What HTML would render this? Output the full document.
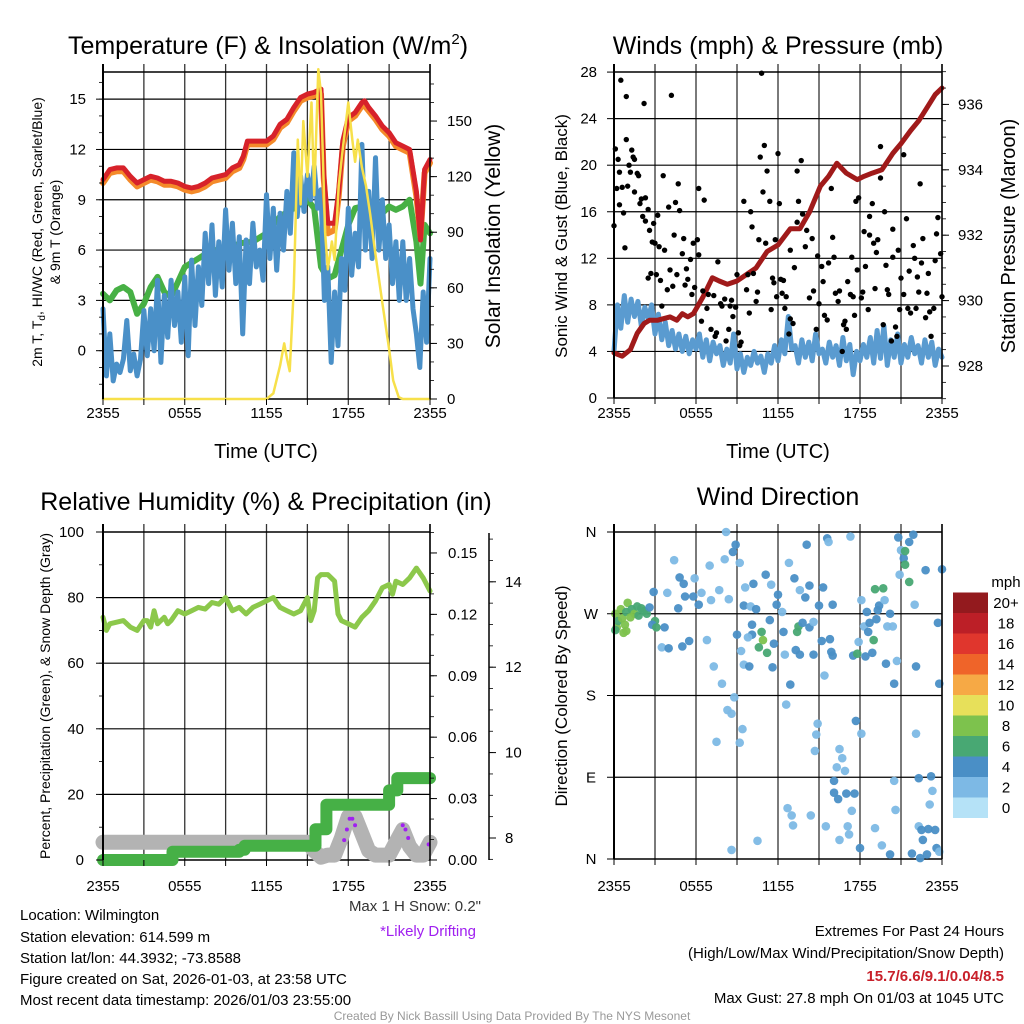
<!DOCTYPE html>
<html><head><meta charset="utf-8"><style>
html,body{margin:0;padding:0;background:#fff;}
svg{display:block;font-family:"Liberation Sans",Arial,sans-serif;}
</style></head><body>
<svg id="c" width="1024" height="1024" viewBox="0 0 1024 1024">
<g id="grid"></g>
<g id="marks"></g>
<g id="axes"></g>
<g id="texts" font-size="15" fill="#000">
<text x="268" y="54" font-size="25" text-anchor="middle">Temperature (F) &amp; Insolation (W/m<tspan font-size="15" dy="-10">2</tspan><tspan dy="10">)</tspan></text>
<text x="778" y="54" font-size="25" text-anchor="middle">Winds (mph) &amp; Pressure (mb)</text>
<text x="266" y="510" font-size="25" text-anchor="middle">Relative Humidity (%) &amp; Precipitation (in)</text>
<text x="778" y="505" font-size="25" text-anchor="middle">Wind Direction</text>
<text x="266" y="458" font-size="20" text-anchor="middle">Time (UTC)</text>
<text x="778" y="458" font-size="20" text-anchor="middle">Time (UTC)</text>
<text transform="translate(42,232) rotate(-90)" font-size="14" text-anchor="middle">2m T, T<tspan font-size="10" dy="3">d</tspan><tspan dy="-3">, HI/WC (Red, Green, Scarlet/Blue)</tspan></text>
<text transform="translate(60,232) rotate(-90)" font-size="14" text-anchor="middle">&amp; 9m T (Orange)</text>
<text transform="translate(500,236) rotate(-90)" font-size="21" text-anchor="middle">Solar Insolation (Yellow)</text>
<text transform="translate(567,236) rotate(-90)" font-size="17" text-anchor="middle">Sonic Wind &amp; Gust (Blue, Black)</text>
<text transform="translate(1015,236) rotate(-90)" font-size="20" text-anchor="middle">Station Pressure (Maroon)</text>
<text transform="translate(50,696) rotate(-90)" font-size="14" text-anchor="middle">Percent, Precipitation (Green), &amp; Snow Depth (Gray)</text>
<text transform="translate(567,696) rotate(-90)" font-size="17" text-anchor="middle">Direction (Colored By Speed)</text>
<text x="1006" y="587" font-size="15" text-anchor="middle">mph</text>
<text x="481" y="911" text-anchor="end" fill="#333">Max 1 H Snow: 0.2"</text>
<text x="428" y="936" text-anchor="middle" fill="#a020f0">*Likely Drifting</text>
<text x="20" y="920">Location: Wilmington</text>
<text x="20" y="942">Station elevation: 614.599 m</text>
<text x="20" y="963">Station lat/lon: 44.3932; -73.8588</text>
<text x="20" y="984">Figure created on Sat, 2026-01-03, at 23:58 UTC</text>
<text x="20" y="1005">Most recent data timestamp: 2026/01/03 23:55:00</text>
<text x="1004" y="936" text-anchor="end">Extremes For Past 24 Hours</text>
<text x="1004" y="958" text-anchor="end">(High/Low/Max Wind/Precipitation/Snow Depth)</text>
<text x="1004" y="981" text-anchor="end" fill="#c8202a" font-weight="bold">15.7/6.6/9.1/0.04/8.5</text>
<text x="1004" y="1003" text-anchor="end">Max Gust: 27.8 mph On 01/03 at 1045 UTC</text>
<text x="512" y="1020" font-size="12" text-anchor="middle" fill="#999">Created By Nick Bassill Using Data Provided By The NYS Mesonet</text>
</g>
</svg>
<script>
const xTickLabels=["2355","0555","1155","1755","2355"];
const tempTicks=[0,3,6,9,12,15];
const insTicks=[0,30,60,90,120,150];
const windTicks=[0,4,8,12,16,20,24,28];
const presTicks=[928,930,932,934,936];
const rhTicks=[0,20,40,60,80,100];
const precipTicks=[0.00,0.03,0.06,0.09,0.12,0.15];
const snowTicks=[8,10,12,14];
const dirTicks=["N","E","S","W","N"];
const speedBins=["0","2","4","6","8","10","12","14","16","18","20+"];
const speedColors=["#b5e2f7","#7db9e5","#4a8fc6","#48a873","#7dc24d","#e7e05a","#f6a945","#ef6429","#e0362d","#bc1f27","#931a1e"];

const redH=[0,0.5,1,1.5,2,2.5,3,3.5,4,4.5,5,5.5,6,6.5,7,7.5,8,8.5,9,9.5,10,10.3,10.6,11,11.5,12,12.5,13,13.5,14,14.5,15,15.5,16,16.2,16.5,17,17.3,17.6,18,18.5,19,19.2,19.5,20,20.5,21,21.5,22,22.5,23,23.3,23.6,24];
const redV=[10.2,10.8,10.9,10.9,10.4,10.0,10.2,10.4,10.3,10.1,10.1,10.0,9.8,9.7,9.8,10.0,10.3,10.4,10.5,10.9,11.1,11.6,12.5,12.5,12.5,12.5,12.8,13.5,13.8,14.5,15.1,15.3,15.4,15.6,10.5,7.6,7.6,9.5,12.5,13.9,14.2,14.8,14.9,14.5,14.0,13.4,13.0,12.4,12.2,12.0,9.5,6.6,10.8,11.4];
const orangeV=[10.0,10.6,10.7,10.7,10.2,9.8,10.0,10.2,10.1,9.9,9.9,9.8,9.6,9.5,9.6,9.8,10.1,10.2,10.3,10.7,10.9,11.4,12.3,12.3,12.3,12.3,12.6,13.3,13.6,14.3,14.9,15.1,15.2,15.3,10.3,7.0,7.2,9.2,12.2,13.7,14.0,14.6,14.6,14.3,13.8,13.2,12.8,12.2,12.0,11.8,9.2,6.8,10.6,11.2];
const greenH=[0,0.5,1,1.5,2,2.5,3,3.5,4,4.5,5,6,7,8,9,10,11,12,13,14,15,15.5,16,16.5,17,17.5,18,18.5,19,19.5,20,20.5,21,21.5,22,22.5,23,23.3,23.6,24];
const greenV=[3.4,3.0,3.6,3.8,3.5,2.2,2.8,3.8,4.4,3.5,3.2,5,5.5,6,6,6.4,6.5,7,8,8.5,9,8.5,5,4.3,4.5,6,7.5,8.5,8.6,8.8,8.5,8.2,8.6,8.4,8.6,9.0,6.5,4.0,7.5,7.0];
const blueV=[2.5,-1.5,1.0,-1.8,-0.8,-1.3,-0.5,1.8,-1.2,-0.2,-1.5,-0.5,2.4,-0.3,2.5,0.0,4.2,-0.7,3.3,0.8,4.2,1.5,3.5,0.5,4.4,-0.3,5.4,1.5,5.0,2.7,7.0,4.0,7.5,3.3,6.5,3.8,8.4,4.8,7.6,4.0,6.8,1.0,6.6,4.0,7.6,5.0,6.0,4.2,9.3,5.5,8.5,4.8,8.2,6.0,9.5,7.0,11.8,8.0,10.4,8.3,10.5,9.0,11.0,8.5,9.6,3.0,5.0,-0.7,3.5,0.3,5.5,3.6,8.5,4.5,7.0,5.0,12.3,6.0,9.5,5.5,11.5,6.0,9.0,5.5,7.5,4.0,6.5,3.0,6.5,3.0,5.5,2.5,1.0,-1.0,3.5,0.5,5.5];
const insH=[0,12,12.5,13,13.3,13.5,13.7,14,14.3,14.5,14.7,15,15.3,15.5,15.8,16,16.3,16.5,16.8,17,17.3,17.6,18,18.3,18.5,18.7,19,19.3,19.6,20,20.5,21,21.3,21.7,22,24];
const insV=[0,0,3,18,30,22,15,60,140,105,150,120,160,110,178,165,90,70,85,75,115,135,160,140,128,140,125,115,100,78,52,27,10,1,0,0];

const presH=[0,0.6,1.2,1.7,2.2,2.6,3.2,4.1,4.6,5.0,5.4,5.8,6.5,7.2,7.7,8.3,9.0,9.7,10.4,11.2,12.0,12.9,13.6,14.3,15.1,15.7,16.3,17.0,17.8,18.3,18.9,19.6,20.4,21.0,21.7,22.3,22.9,23.5,24];
const presV=[928.4,928.3,928.5,929.0,929.3,929.4,929.4,929.5,929.4,929.6,929.5,929.6,930.1,930.7,930.6,930.5,930.6,930.8,931.0,931.5,931.7,932.2,932.2,932.7,933.5,933.8,934.2,933.9,933.7,933.8,933.9,934.0,934.5,934.8,935.2,935.5,935.9,936.3,936.5];
const windV=[4,8,6,8.8,6.5,8.5,7,8.3,6.2,7.8,6.8,8,5.5,7.2,5,6.5,4.5,5.8,4.2,5.5,4,5.3,3.8,5,4.2,5.5,3.5,5,3.2,4.8,3.8,4.5,2.8,4.2,3,5.5,2.5,3.8,2.2,3.5,2.8,4,3,3.6,2.2,3.8,3,4.5,3.2,5,3.8,7,4.2,4.5,3,5,3.5,4.8,3.2,5.5,3.8,4.2,3,4.8,3.5,4.5,2.8,5.2,3.2,4.6,2,4,3.2,4.6,3.5,5.2,3,5.8,3.4,6.2,2.8,5,3.5,5.5,3,4.6,3.5,5.2,3.8,4.5,3,5,3.5,4.8,2.8,4.2,3.5];
const gustH=[0,0.1,0.2,0.3,0.4,0.5,0.4,0.6,0.7,0.8,0.9,0.9,1.0,1.1,1.2,1.3,1.4,1.5,1.5,1.7,1.8,1.9,2.0,2.1,2.2,2.3,2.3,2.5,2.5,2.6,2.7,2.8,2.9,3.0,3.1,3.2,3.3,3.4,3.5,3.6,3.7,3.9,4.0,4.1,4.2,4.3,4.4,4.5,4.6,4.7,4.8,5.0,5.1,5.2,5.3,5.4,5.6,5.7,5.8,5.9,6.1,6.2,6.2,6.4,6.5,6.6,6.8,6.9,7.1,7.3,7.4,7.5,7.6,7.8,7.9,8.1,8.2,8.4,8.5,8.6,8.7,8.9,9.0,9.1,9.2,9.3,9.5,9.7,9.8,9.9,10.0,10.1,10.2,10.4,10.5,10.6,10.7,10.8,10.9,11.0,11.1,11.2,11.4,11.5,11.6,11.7,11.8,11.9,12.0,12.1,12.2,12.3,12.4,12.5,12.6,12.8,12.9,12.9,13.1,13.2,13.4,13.4,13.5,13.7,13.8,14.0,14.1,14.3,14.5,14.6,14.8,14.9,15.0,15.2,15.3,15.4,15.6,15.7,15.9,16.0,16.1,16.2,16.4,16.5,16.7,16.8,16.9,17.0,17.1,17.3,17.4,17.5,17.6,17.7,17.8,17.9,18.1,18.2,18.3,18.4,18.6,18.7,18.7,18.9,19.0,19.1,19.2,19.3,19.5,19.5,19.7,19.8,19.9,20.0,20.1,20.3,20.4,20.4,20.6,20.7,20.8,20.9,21.0,21.2,21.2,21.4,21.5,21.6,21.7,21.9,22.0,22.1,22.2,22.3,22.4,22.5,22.6,22.8,22.9,23.0,23.1,23.2,23.4,23.5,23.6,23.7,23.9,24.0];
const gustV=[14.8,21.4,18,20.5,16.6,27.3,19.4,18.1,15.9,12.9,22.2,25.9,18.2,20,19.4,21.3,20.7,17.7,20.5,19.3,19.1,16.7,17.1,15.6,25.3,17.2,15.2,16.2,10.3,14.4,10.7,13.4,15,13.3,10.6,15.7,13,10.1,7.9,19.1,12.7,9.3,16.4,11,26,9.6,14,16.8,10.6,18.4,16.1,12.4,13.7,9.7,11.1,10.2,11.9,8.9,13.3,9.5,13.6,12.3,18,6.6,9.2,17,7.7,8.9,5.9,8.8,5.3,5.6,11.7,8.1,7.9,8.5,4.9,5.9,7.9,8.4,7,7.8,10.6,5.6,4.5,4.8,16.9,9.3,10.6,7.3,16,14.7,10.7,8.3,9.1,13.6,20.7,27.9,17.7,21.7,13.3,19.5,16.9,7.6,10.3,9.9,13.6,8.7,21,16.7,10.2,9,10.1,7.7,8.7,5.5,12.7,6.8,6.4,11.2,15.1,19.5,16.9,20.4,15.8,13,14.4,8.6,13.7,9.2,5.9,12.2,8.1,11.3,10,7.1,6.7,11.6,18,13.8,12.1,9,8.3,9.2,4,6.3,6.6,5.9,10,8.9,12.1,8.7,7.1,16.9,11,17.2,8.6,9.1,14.3,11.3,7.6,15.6,14,16.7,13.3,9.4,12.5,13.6,18.9,21.6,6.3,16,11.4,9.3,8.9,4.9,14.5,12.1,6.1,5.3,12.7,7.6,10.3,8.9,20.9,15.4,7.7,10.9,7.3,13.1,12,7.7,10.4,9.1,18.4,11.6,13.7,6.9,9,10.7,7.4,5.3,7.7,11.8,14.1,15.5,12.4,8.7];

const rhH=[0,0.25,0.5,1,1.5,2,2.5,3,3.25,3.5,3.75,4,4.5,4.75,5,5.5,6,6.5,7,7.5,8,8.5,9,9.5,10,10.5,11,11.5,12,12.5,13,13.5,14,14.5,15,15.25,15.5,15.75,16,16.5,17,17.25,17.5,18,18.5,19,19.5,20,20.5,21,21.25,21.5,22,22.5,23,23.5,24];
const rhV=[74,70,72,72.5,73,71,70,73,73,71,76,72,74,72,73,76,75,76,77,76.5,78.5,78,80,76,77,75,77,78,79,80,77,76,75,76,80,73,76,86,87,87,85,75,73,72,71,74,76,79,83,84,81,85,84,86,89,86,82];
const precipH=[0,5.1,5.1,10.0,10.0,10.4,10.4,15.6,15.6,16.4,16.4,21.0,21.0,21.6,21.6,24];
const precipV=[0,0,0.004,0.004,0.005,0.005,0.007,0.007,0.015,0.015,0.027,0.027,0.034,0.034,0.040,0.040];
const snowH=[0,15.0,15.5,16.0,16.5,17.0,17.5,18.0,18.5,19.0,19.5,20.0,21.0,21.5,22.0,22.5,23.0,23.5,24];
const snowV=[7.9,7.9,7.7,7.55,7.6,7.6,8.0,8.5,8.5,8.1,7.7,7.6,7.6,7.9,8.2,7.8,7.6,7.6,7.9];
const driftH=[17.7,17.9,18.1,18.3,18.5,22.0,22.2,22.4,23.9];
const driftV=[7.95,8.2,8.45,8.45,8.3,8.3,8.2,8.0,7.85];

const dirH=[0.1,0.2,0.3,0.5,0.6,0.8,0.9,1.0,1.2,1.3,1.5,1.7,1.8,2.0,2.2,2.4,2.6,0.7,0.9,0.1,3.0,2.8,3.1,3.7,2.9,3.9,4.4,4.8,5.1,5.2,5.8,4.7,5.9,6.4,6.2,7.0,7.1,7.7,8.1,8.2,8.7,8.9,9.2,8.4,3.5,4.0,5.0,5.5,6.8,7.3,7.9,8.8,8.3,8.6,9.4,7.5,9.2,8.6,10.5,9.6,10.2,9.5,10.0,10.4,10.1,10.1,9.8,9.0,9.3,9.5,9.9,10.8,10.9,10.6,11.2,11.1,11.5,11.4,11.7,11.6,12.0,11.9,12.3,12.4,12.5,12.8,12.9,12.6,12.7,13.0,13.1,13.2,13.6,13.5,13.4,13.3,13.6,13.8,14.0,14.1,14.3,14.3,14.6,14.6,14.9,14.8,14.7,14.4,15.0,15.2,15.3,15.4,15.5,15.6,15.7,15.8,15.9,16.0,16.0,16.1,16.1,16.4,16.3,16.5,16.7,16.9,16.5,17.0,17.1,17.2,17.4,17.3,17.5,17.6,17.7,17.9,17.8,18.0,18.1,18.1,18.4,18.3,18.5,18.6,18.7,18.9,19.0,19.1,19.2,19.1,19.3,19.4,19.7,19.6,19.8,19.9,20.0,20.2,20.2,20.4,20.5,20.5,20.6,20.7,20.8,20.9,21.0,21.2,21.3,21.3,21.6,21.9,21.6,22.0,22.1,22.1,22.3,22.3,22.5,22.6,22.8,23.0,23.1,23.2,23.3,21.8,22.4,22.9,23.5,23.6,23.7,23.8,24.0,23.8];
const dirV=[270,255,262,275,265,258,272,282,266,275,270,278,268,276,273,270,277,249,251,252,262,258,255,255,294,293,329,310,303,289,289,276,309,293,280,323,285,296,330,360,338,346,326,286,233,232,234,240,241,212,193,178,164,160,143,129,128,10,20,299,303,279,278,275,258,247,244,247,229,214,212,250,241,233,227,313,302,263,237,211,291,280,272,250,225,326,192,170,56,48,37,309,296,256,250,230,225,260,288,346,255,301,225,261,149,137,119,48,279,240,299,202,36,353,349,242,228,224,280,86,73,66,101,121,111,97,21,72,36,27,53,355,224,72,152,239,226,12,285,138,223,256,272,250,260,227,241,297,264,34,274,279,298,15,285,215,256,270,5,256,193,86,54,218,354,313,340,331,324,339,349,357,305,280,212,138,89,36,32,21,318,33,60,91,75,6,1,5,32,12,260,193,319,8];
const dirS=[9,9,7,9,9,9,7,9,9,7,9,7,7,7,7,7,5,9,9,7,7,5,7,5,5,3,3,5,5,5,5,5,3,3,5,3,3,3,3,3,5,5,3,3,3,5,5,5,3,3,3,3,3,3,3,3,3,3,3,3,5,5,3,5,5,5,3,5,3,3,5,7,9,7,7,5,3,5,5,5,5,5,3,5,3,3,5,3,3,3,3,5,3,7,7,5,5,5,5,5,5,5,5,3,3,3,3,3,5,5,5,3,3,5,3,5,5,5,5,5,5,5,3,3,3,3,3,5,3,3,3,3,5,5,5,3,7,5,3,3,5,3,5,5,5,5,7,7,5,3,5,5,7,3,3,5,3,5,5,3,5,3,3,3,5,3,3,5,7,7,5,5,7,3,5,3,5,3,5,5,5,5,3,5,3,5,5,5,5,5,5,5,5,3,5,5];

const NS="http://www.w3.org/2000/svg";
const G=document.getElementById('grid'),M=document.getElementById('marks'),A=document.getElementById('axes');
function mk(tag,parent,attrs){const e=document.createElementNS(NS,tag);for(const k in attrs)e.setAttribute(k,attrs[k]);parent.appendChild(e);return e;}

const TL={x0:103,x1:430},TR={x0:614,x1:942};
const hx=(p,h)=>p.x0+(p.x1-p.x0)*h/24;
const tY=v=>350.7-v*16.77, iY=v=>399-v*1.853;
const wY=v=>398-v*11.64, pY=v=>366-(v-928)*32.7;
const rY=v=>860-v*3.28, prY=v=>860-v*2047, sY=v=>838-(v-8)*42.7;
const dY=v=>859-v/360*327;

function pathOf(p,hs,vs,yf){let d='';for(let i=0;i<vs.length;i++){d+=(i?'L':'M')+hx(p,hs[i]).toFixed(1)+' '+yf(vs[i]).toFixed(1);}return d;}
function drawLine(p,hs,vs,yf,color,w,name,cap){
  const el=mk('path',M,{d:pathOf(p,hs,vs,yf),fill:'none',stroke:color,'stroke-width':w,'stroke-linejoin':'round','stroke-linecap':cap||'round'});
  
  
  return el;
}
function gline(x1,y1,x2,y2,w,c){const l=mk('line',G,{x1,y1,x2,y2,stroke:c||'#000','stroke-width':w||1});
  
  }
function aline(x1,y1,x2,y2,w){const l=mk('line',A,{x1,y1,x2,y2,stroke:'#000','stroke-width':w||1.5});
  
  }
function label(x,y,t,anchor,name,size){const e=mk('text',A,{x,y,'text-anchor':anchor||'middle','font-size':size||15});e.textContent=t;
  
  }

function panelFrame(p,yTop,yBot,xlabY){
  for(let i=0;i<=8;i++){const x=p.x0+(p.x1-p.x0)*i/8;gline(x,yTop-8,x,yBot,1.3,'#333');aline(x,yBot,x,yBot+6,1);}
  gline(p.x0,yTop,p.x1,yTop,1.5);gline(p.x0,yBot,p.x1,yBot,1.5);
  aline(p.x0,yTop-8,p.x0,yBot,2);aline(p.x1,yTop-8,p.x1,yBot,1.5);
  xTickLabels.forEach((t,i)=>label(p.x0+(p.x1-p.x0)*i/4,xlabY,t,'middle','x-tick-label'));
}
panelFrame(TL,72,399,418);
tempTicks.forEach(v=>{gline(TL.x0,tY(v),TL.x1,tY(v),1.2);aline(TL.x0-7,tY(v),TL.x0,tY(v),1);label(86,tY(v)+5,String(v),'end','temp-tick-label');});
for(let v=-2;v<=16;v++){aline(TL.x0-4,tY(v),TL.x0,tY(v),0.8);}
insTicks.forEach(v=>{aline(TL.x1,iY(v),TL.x1+7,iY(v),1);label(447,iY(v)+5,String(v),'start','insolation-tick-label');});
for(let v=0;v<=175;v+=10){aline(TL.x1,iY(v),TL.x1+4,iY(v),0.8);}
panelFrame(TR,72,398,418);
windTicks.forEach(v=>{if(v>0&&v<28)gline(TR.x0,wY(v),TR.x1,wY(v),1.2);aline(TR.x0-7,wY(v),TR.x0,wY(v),1);label(597,wY(v)+5,String(v),'end','wind-tick-label');});
presTicks.forEach(v=>{aline(TR.x1,pY(v),TR.x1+7,pY(v),1);label(958,pY(v)+5,String(v),'start','pressure-tick-label');});
for(let v=927;v<=937;v+=0.5){aline(TR.x1,pY(v),TR.x1+4,pY(v),0.8);}
panelFrame(TL,532,860,891);
rhTicks.forEach(v=>{if(v>0&&v<100)gline(TL.x0,rY(v),TL.x1,rY(v),1.2);aline(TL.x0-7,rY(v),TL.x0,rY(v),1);label(84,rY(v)+5,String(v),'end','rh-tick-label');});
for(let v=0;v<=100;v+=10){aline(TL.x0-4,rY(v),TL.x0,rY(v),0.8);}
precipTicks.forEach(v=>{aline(TL.x1,prY(v),TL.x1+7,prY(v),1);label(448,prY(v)+5,v.toFixed(2),'start','precip-tick-label');});
for(let v=0;v<=0.16;v+=0.01){aline(TL.x1,prY(v),TL.x1+4,prY(v),0.8);}
aline(489,533,489,860,1.5);
snowTicks.forEach(v=>{aline(489,sY(v),496,sY(v),1);label(505,sY(v)+5,String(v),'start','snow-tick-label');});
for(let v=7.5;v<=15.1;v+=0.5){aline(489,sY(v),493,sY(v),0.8);}
panelFrame(TR,532,859,891);
dirTicks.forEach((t,i)=>{const y=dY(i*90);if(i>0&&i<4)gline(TR.x0,y,TR.x1,y,1.2);aline(TR.x0-7,y,TR.x0,y,1);label(591,y+5,t,'middle','direction-tick-label');});
speedColors.forEach((c,i)=>{const y=818-(i+1)*20.5;const r=mk('rect',A,{x:953,y:y,width:35,height:20.5,fill:c});
  
  });
speedBins.forEach((t,i)=>label(1006,818-i*20.5-5,t,'middle','colorbar-label'));

drawLine(TL,greenH,greenV,tY,'#47b045',6,'heat-index-line');
drawLine(TL,blueV.map((v,i)=>i*24/(blueV.length-1)),blueV,tY,'#4a90c8',5,'dewpoint-line');
drawLine(TL,redH,orangeV,tY,'#f48a2a',6,'temp-9m-line');
drawLine(TL,redH,redV,tY,'#d7222a',5,'temp-2m-line');
drawLine(TL,insH,insV,iY,'#f7e04a',2.5,'insolation-line');
drawLine(TR,windV.map((v,i)=>i*24/(windV.length-1)),windV,wY,'#5a9bd0',5,'wind-speed-line');
drawLine(TR,presH,presV,pY,'#a01a1a',5,'pressure-line');
gustH.forEach((h,i)=>{const c=mk('circle',M,{cx:hx(TR,h),cy:wY(gustV[i]),r:2.7,fill:'#000'});
  
  });
drawLine(TL,snowH,snowV,sY,'#b3b3b3',15,'snow-depth-line');
drawLine(TL,precipH,precipV,prY,'#46b046',12,'precip-line');
drawLine(TL,rhH,rhV,rY,'#8cc84b',5,'rh-line');
driftH.forEach((h,i)=>{const c=mk('circle',M,{cx:hx(TL,h),cy:sY(driftV[i]),r:2,fill:'#a020f0'});
  
  });
dirH.forEach((h,i)=>{const bin=Math.min(10,Math.floor(dirS[i]/2));const c=mk('circle',M,{cx:hx(TR,h),cy:dY(dirV[i]),r:4.3,fill:speedColors[bin],'fill-opacity':0.95});
  
  });
</script>
</body></html>
